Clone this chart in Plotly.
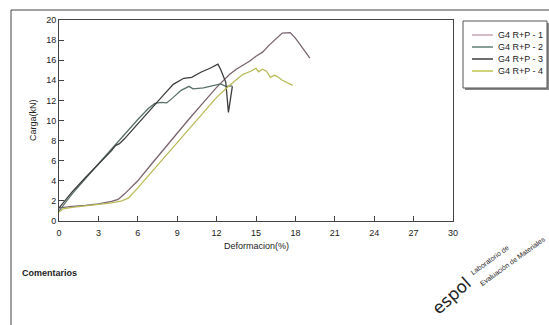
import plotly.graph_objects as go

# ---- data ----
names = ["G4 R+P - 1", "G4 R+P - 2", "G4 R+P - 3", "G4 R+P - 4"]
colors = ["#7a6470", "#587068", "#3c3c3c", "#b8ba5a"]
legend_colors = ["#c9a3b4", "#5f8078", "#3c3c3c", "#c2c44c"]

x1 = [0, 0.5, 1, 2, 3, 4, 4.5, 5, 6, 7, 8, 9, 10, 11, 12, 13, 13.5, 14, 14.5, 15, 15.5, 16, 16.5, 17, 17.6, 18, 18.5, 19.1]
y1 = [1.3, 1.4, 1.45, 1.55, 1.7, 1.95, 2.15, 2.7, 4.0, 5.6, 7.2, 8.8, 10.3, 11.8, 13.3, 14.6, 15.1, 15.5, 15.9, 16.4, 16.8, 17.5, 18.1, 18.7, 18.75, 18.2, 17.3, 16.2]

x2 = [0, 0.5, 1, 2, 3, 4, 5, 6, 6.8, 7.3, 7.8, 8.2, 8.7, 9.3, 9.9, 10.2, 11.0, 11.8, 12.3, 12.7, 13.2]
y2 = [1.0, 1.9, 2.7, 4.2, 5.7, 7.2, 8.6, 10.1, 11.2, 11.7, 11.8, 11.75, 12.3, 13.0, 13.4, 13.15, 13.25, 13.5, 13.65, 13.4, 13.45]

x3 = [0, 0.5, 1, 2, 3, 4, 4.3, 4.6, 5, 6, 7, 7.4, 8, 8.7, 9.5, 10.1, 10.8, 11.5, 12.1, 12.3, 12.7, 12.9, 13.2]
y3 = [1.3, 2.1, 2.9, 4.3, 5.6, 7.0, 7.5, 7.7, 8.2, 9.7, 11.1, 11.8, 12.6, 13.6, 14.2, 14.3, 14.8, 15.2, 15.6, 15.1, 13.8, 10.8, 13.4]

x4 = [0, 0.3, 1, 2, 3, 4, 4.8, 5.3, 6, 7, 8, 9, 10, 11, 12, 13, 14, 14.6, 15.0, 15.2, 15.5, 15.8, 16.1, 16.4, 16.6, 17.0, 17.8]
y4 = [0.9, 1.2, 1.35, 1.5, 1.65, 1.8, 2.0, 2.3, 3.3, 4.8, 6.3, 7.9, 9.4, 10.9, 12.3, 13.5, 14.6, 14.9, 15.2, 14.85, 15.1, 14.9, 14.3, 14.5, 14.4, 14.0, 13.5]

x_ticks = [0, 3, 6, 9, 12, 15, 18, 21, 24, 27, 30]
y_ticks = [0, 2, 4, 6, 8, 10, 12, 14, 16, 18, 20]

xs = [x1, x2, x3, x4]
ys = [y1, y2, y3, y4]

# ---- figure geometry (pixels) ----
W, H = 549, 325
L, R, T, B = 59, 453, 20, 221


def px(xp):
    return (xp - L) / (R - L)


def py(yp):
    return (B - yp) / (B - T)


fig = go.Figure()
for i in range(4):
    fig.add_trace(go.Scatter(x=xs[i], y=ys[i], mode="lines", name=names[i],
                             line=dict(color=colors[i], width=1.3),
                             showlegend=False))

font = "Liberation Sans, Arial, sans-serif"
axis_common = dict(showline=True, mirror=True, linecolor="#444", linewidth=1,
                   ticks="inside", ticklen=5, tickcolor="#444", showgrid=False,
                   zeroline=False, tickfont=dict(size=9, color="#222", family=font))

fig.update_layout(
    width=W, height=H,
    margin=dict(l=L, r=W - R, t=T, b=H - B),
    paper_bgcolor="white", plot_bgcolor="white",
    showlegend=False,
    xaxis=dict(range=[0, 30], tickvals=x_ticks, ticktext=[str(v) for v in x_ticks],
               ticklabelstandoff=3, **axis_common),
    yaxis=dict(range=[0, 20], tickvals=y_ticks, ticktext=[str(v) for v in y_ticks], **axis_common),
)

shapes = []
ann = []
# outer frame lines
shapes.append(dict(type="line", xref="paper", yref="paper", x0=px(11), x1=px(549), y0=py(10), y1=py(10),
                   line=dict(color="#444", width=1)))
shapes.append(dict(type="line", xref="paper", yref="paper", x0=px(11), x1=px(11), y0=py(10), y1=py(325),
                   line=dict(color="#444", width=1)))

# legend box (manual), with shadow
shapes.append(dict(type="rect", xref="paper", yref="paper", x0=px(465), x1=px(549), y0=py(23), y1=py(90),
                   line=dict(width=0), fillcolor="#888"))
shapes.append(dict(type="rect", xref="paper", yref="paper", x0=px(463), x1=px(547), y0=py(21), y1=py(88),
                   line=dict(color="#555", width=1), fillcolor="white"))
leg_y = [35, 47, 59, 71]
for i in range(4):
    shapes.append(dict(type="line", xref="paper", yref="paper", x0=px(472), x1=px(493),
                       y0=py(leg_y[i]), y1=py(leg_y[i]), line=dict(color=legend_colors[i], width=1.5)))
    ann.append(dict(xref="paper", yref="paper", x=px(496), y=py(leg_y[i]), text=names[i],
                    showarrow=False, xanchor="left", yanchor="middle",
                    font=dict(size=9, color="#222", family=font)))


def centered(x, y, text, size, angle=0, fam=font, xanchor="center"):
    return dict(xref="paper", yref="paper", x=px(x), y=py(y), text=text, showarrow=False,
                xanchor=xanchor, yanchor="middle", textangle=angle,
                font=dict(size=size, color="#222", family=fam))


# axis titles
ann.append(centered(256, 246, "Deformacion(%)", 9))
ann.append(centered(33, 120, "Carga(kN)", 9, angle=-90))
ann.append(centered(20, 273, "<b>Comentarios</b>", 9, xanchor="left"))

# logo texts
ann.append(centered(451, 296, "espol", 17, angle=-42, fam="DejaVu Sans, sans-serif"))
ann.append(centered(489, 260, "Laboratorio de", 7, angle=-36))
ann.append(centered(512, 261, "Evaluación de Materiales", 7, angle=-36))

fig.update_layout(shapes=shapes, annotations=ann)
fig.write_html("out.html", config={"displayModeBar": False},
               post_script="document.body.style.margin='0';")
